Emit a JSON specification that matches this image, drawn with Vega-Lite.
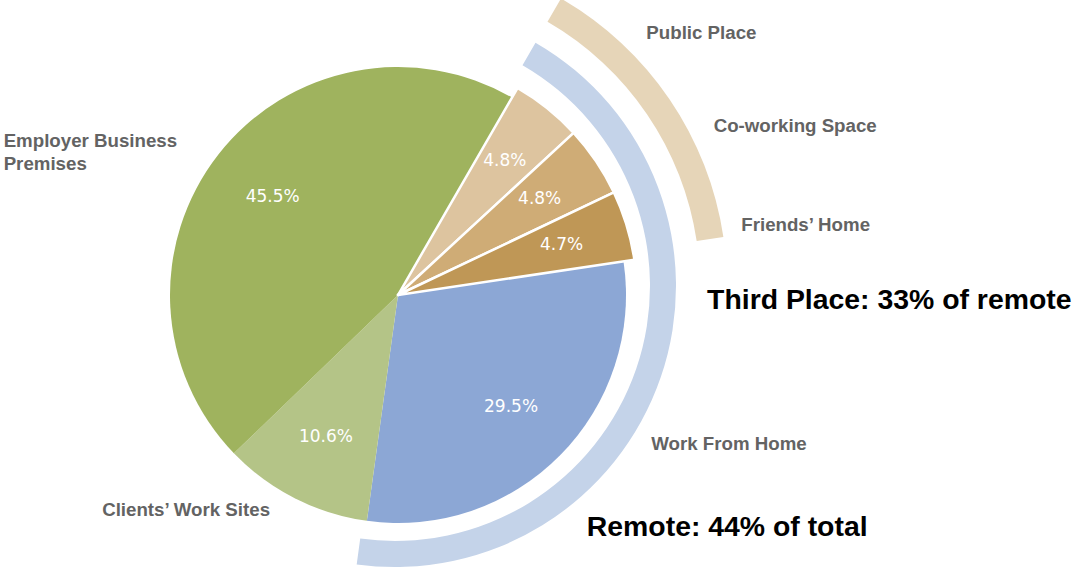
{
  "$schema": "https://vega.github.io/schema/vega-lite/v6.json",
  "width": 796,
  "height": 566,
  "autosize": {"type": "none"},
  "padding": {"left": 0, "top": 12, "right": 281, "bottom": 0},
  "background": "white",
  "config": {"view": {"stroke": null}},
  "data": {
    "values": [
      {"place": "Public Place", "pct": 4.8, "i": 1, "group": "Third Place", "loc": "Remote"},
      {"place": "Co-working Space", "pct": 4.8, "i": 2, "group": "Third Place", "loc": "Remote"},
      {"place": "Friends’ Home", "pct": 4.7, "i": 3, "group": "Third Place", "loc": "Remote"},
      {"place": "Work From Home", "pct": 29.5, "i": 4, "group": "Home", "loc": "Remote"},
      {"place": "Clients’ Work Sites", "pct": 10.6, "i": 5, "group": "On-site", "loc": "On-site"},
      {"place": "Employer Business Premises", "pct": 45.5, "i": 6, "group": "On-site", "loc": "On-site"}
    ]
  },
  "transform": [{"calculate": "format(datum.pct, '.1f') + '%'", "as": "label"}],
  "encoding": {
    "theta": {"field": "pct", "type": "quantitative", "stack": true, "scale": {"range": [0.5236, 6.8068]}},
    "order": {"field": "i", "type": "quantitative"}
  },
  "layer": [
    {
      "transform": [{"aggregate": [{"op": "sum", "field": "pct", "as": "pct"}, {"op": "min", "field": "i", "as": "i"}], "groupby": ["loc"]}],
      "mark": {"type": "arc", "innerRadius": 255, "outerRadius": 281, "xOffset": -3, "yOffset": -9},
      "encoding": {
        "fill": {"value": "#C4D3E9"},
        "opacity": {"condition": {"test": "datum.loc === 'Remote'", "value": 1}, "value": 0}
      }
    },
    {
      "transform": [{"aggregate": [{"op": "sum", "field": "pct", "as": "pct"}, {"op": "min", "field": "i", "as": "i"}], "groupby": ["group"]}],
      "mark": {"type": "arc", "innerRadius": 305, "outerRadius": 332, "xOffset": -3, "yOffset": -9},
      "encoding": {
        "fill": {"value": "#E6D5B8"},
        "opacity": {"condition": {"test": "datum.group === 'Third Place'", "value": 1}, "value": 0}
      }
    },
    {
      "mark": {"type": "arc", "outerRadius": 228},
      "encoding": {
        "fill": {"field": "place", "type": "nominal", "legend": null,
          "scale": {"domain": ["Public Place", "Co-working Space", "Friends’ Home", "Work From Home", "Clients’ Work Sites", "Employer Business Premises"],
                    "range": ["#DDC49F", "#CFAC76", "#BF9756", "#8CA7D5", "#B4C487", "#9FB35E"]}},
        "opacity": {"condition": {"test": "datum.group === 'Third Place'", "value": 0}, "value": 1}
      }
    },
    {
      "mark": {"type": "arc", "outerRadius": 239, "stroke": "white", "strokeWidth": 2.5, "strokeJoin": "round"},
      "encoding": {
        "fill": {"field": "place", "type": "nominal", "legend": null},
        "opacity": {"condition": {"test": "datum.group === 'Third Place'", "value": 1}, "value": 0}
      }
    },
    {
      "mark": {"type": "text", "radius": 159, "font": "DejaVu Sans", "fontSize": 17, "fill": "white", "align": "center", "baseline": "middle"},
      "encoding": {
        "text": {"field": "label", "type": "nominal"},
        "opacity": {"condition": {"test": "datum.group === 'Third Place'", "value": 0}, "value": 1}
      }
    },
    {
      "mark": {"type": "text", "radius": 171, "font": "DejaVu Sans", "fontSize": 17, "fill": "white", "align": "center", "baseline": "middle"},
      "encoding": {
        "text": {"field": "label", "type": "nominal"},
        "opacity": {"condition": {"test": "datum.group === 'Third Place'", "value": 1}, "value": 0}
      }
    },
    {
      "mark": {"type": "text", "radius": 340, "dx": 36, "dy": 10, "font": "Liberation Sans", "fontWeight": "bold", "fontSize": 18.7, "fill": "#636363", "align": "left", "baseline": "alphabetic"},
      "encoding": {
        "text": {"field": "place", "type": "nominal"},
        "opacity": {"condition": {"test": "datum.place === 'Public Place'", "value": 1}, "value": 0}
      }
    },
    {
      "mark": {"type": "text", "radius": 340, "dx": 34, "dy": 27, "font": "Liberation Sans", "fontWeight": "bold", "fontSize": 18.7, "fill": "#636363", "align": "left", "baseline": "alphabetic"},
      "encoding": {
        "text": {"field": "place", "type": "nominal"},
        "opacity": {"condition": {"test": "datum.place === 'Co-working Space'", "value": 1}, "value": 0}
      }
    },
    {
      "mark": {"type": "text", "radius": 340, "dx": 18, "dy": 35, "font": "Liberation Sans", "fontWeight": "bold", "fontSize": 18.7, "fill": "#636363", "align": "left", "baseline": "alphabetic"},
      "encoding": {
        "text": {"field": "place", "type": "nominal"},
        "opacity": {"condition": {"test": "datum.place === 'Friends’ Home'", "value": 1}, "value": 0}
      }
    },
    {
      "mark": {"type": "text", "radius": 300, "dx": 40, "dy": -56, "font": "Liberation Sans", "fontWeight": "bold", "fontSize": 18.7, "fill": "#636363", "align": "left", "baseline": "alphabetic"},
      "encoding": {
        "text": {"field": "place", "type": "nominal"},
        "opacity": {"condition": {"test": "datum.place === 'Work From Home'", "value": 1}, "value": 0}
      }
    },
    {
      "mark": {"type": "text", "radius": 300, "dx": -76, "dy": -46, "font": "Liberation Sans", "fontWeight": "bold", "fontSize": 18.7, "fill": "#636363", "align": "center", "baseline": "alphabetic"},
      "encoding": {
        "text": {"field": "place", "type": "nominal"},
        "opacity": {"condition": {"test": "datum.place === 'Clients’ Work Sites'", "value": 1}, "value": 0}
      }
    },
    {
      "mark": {"type": "text", "radius": 300, "dx": -158, "dy": 37, "lineHeight": 22.7, "font": "Liberation Sans", "fontWeight": "bold", "fontSize": 18.7, "fill": "#636363", "align": "left", "baseline": "alphabetic"},
      "encoding": {
        "text": {"value": ["Employer Business", "Premises"]},
        "opacity": {"condition": {"test": "datum.place === 'Employer Business Premises'", "value": 1}, "value": 0}
      }
    },
    {
      "transform": [{"aggregate": [{"op": "sum", "field": "pct", "as": "pct"}, {"op": "min", "field": "i", "as": "i"}], "groupby": ["loc"]}],
      "mark": {"type": "text", "radius": 300, "dx": -95, "dy": 143.7, "font": "Liberation Sans", "fontWeight": "bold", "fontSize": 28.4, "fill": "black", "align": "left", "baseline": "alphabetic"},
      "encoding": {
        "text": {"value": "Remote: 44% of total"},
        "opacity": {"condition": {"test": "datum.loc === 'Remote'", "value": 1}, "value": 0}
      }
    },
    {
      "transform": [{"aggregate": [{"op": "sum", "field": "pct", "as": "pct"}, {"op": "min", "field": "i", "as": "i"}], "groupby": ["group"]}],
      "mark": {"type": "text", "radius": 320, "dx": 44.5, "dy": 194, "font": "Liberation Sans", "fontWeight": "bold", "fontSize": 28.4, "fill": "black", "align": "left", "baseline": "alphabetic"},
      "encoding": {
        "text": {"value": "Third Place: 33% of remote"},
        "opacity": {"condition": {"test": "datum.group === 'Third Place'", "value": 1}, "value": 0}
      }
    }
  ]
}
